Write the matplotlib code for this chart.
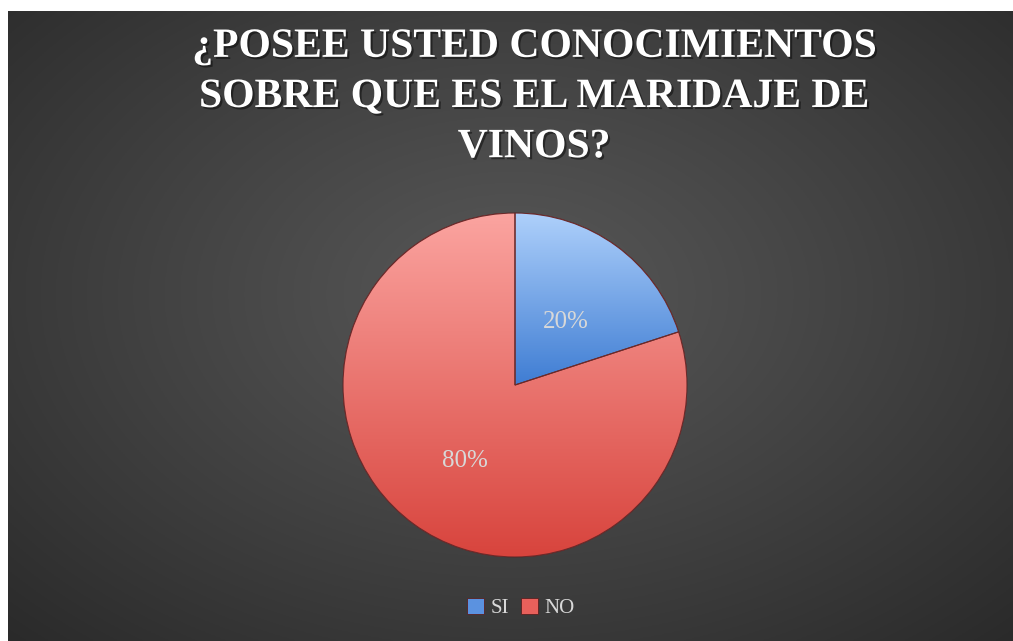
import numpy as np
import matplotlib
matplotlib.use("Agg")
import matplotlib.pyplot as plt
from matplotlib.colors import LinearSegmentedColormap
from matplotlib.patches import Wedge
import matplotlib.patheffects as pe

# ---- data ----
categories = ["SI", "NO"]
values = [20, 80]
title = "¿POSEE USTED CONOCIMIENTOS\nSOBRE QUE ES EL MARIDAJE DE\nVINOS?"

W, H = 1013, 641
fig = plt.figure(figsize=(W / 100, H / 100), dpi=100, facecolor="white")

# ---- chart area background (radial gradient) ----
x0, y0 = 8, 11  # chart area offset (px)
bg = fig.add_axes([x0 / W, 0, 1 - x0 / W, 1 - y0 / H])
bg.set_axis_off()
nx, ny = 500, 320
xx, yy = np.meshgrid(np.linspace(0, 1, nx), np.linspace(0, 1, ny))
cx, cy = 0.5, 0.55
d = np.sqrt(((xx - cx) / 0.75) ** 2 + ((yy - cy) / 0.8) ** 2)
d = np.clip(d, 0, 1)
light, dark = 0x57 / 255, 0x28 / 255
val = light + (dark - light) * d ** 1.1
bg.imshow(np.dstack([val, val, val]), extent=[0, 1, 0, 1], origin="lower", aspect="auto")
bg.set_xlim(0, 1)
bg.set_ylim(0, 1)

# ---- title ----
fig.text(534 / W, 1 - 97 / H, title, ha="center", va="center",
         fontsize=30, fontweight="bold", family="Liberation Serif",
         color="white", linespacing=1.42,
         path_effects=[pe.withSimplePatchShadow(offset=(1.5, -1.5), shadow_rgbFace="black", alpha=0.45)])

# ---- pie ----
pcx, pcy, R = 515, 385, 172
ax = fig.add_axes([(pcx - R) / W, (H - pcy - R) / H, 2 * R / W, 2 * R / H])
ax.set_axis_off()
wedges, texts, autotexts = ax.pie(
    values, startangle=90, counterclock=False, radius=1,
    colors=["#6a9fe6", "#ee6e69"], autopct="%1.0f%%", pctdistance=0.5,
    wedgeprops=dict(edgecolor="#5a2020", linewidth=0.6),
    textprops=dict(color="#d8d8d8", fontsize=18, family="Liberation Serif"))

grads = [("#aed0fb", "#3f7dd3"), ("#fba4a0", "#d8443d")]
for w, (ctop, cbot) in zip(wedges, grads):
    ext = w.get_path().get_extents()
    cmap = LinearSegmentedColormap.from_list("g", [cbot, ctop])
    g = np.linspace(0, 1, 256).reshape(-1, 1)
    im = ax.imshow(g, cmap=cmap, extent=[ext.x0, ext.x1, ext.y0, ext.y1],
                   origin="lower", aspect="auto", zorder=1.5)
    im.set_clip_path(w)
    w.set_zorder(1)
for w in wedges:
    edge = Wedge(w.center, w.r, w.theta1, w.theta2, facecolor="none",
                 edgecolor="#6b2a2a", linewidth=0.8, zorder=2)
    ax.add_patch(edge)
for t in autotexts:
    t.set_zorder(3)
    x, y = t.get_position()
    t.set_position((x, y - 0.04))
ax.set_xlim(-1.0, 1.0)
ax.set_ylim(-1.0, 1.0)

# ---- legend ----
leg = fig.legend(wedges, categories, loc="center", bbox_to_anchor=(521 / W, 1 - 608 / H),
                 ncol=2, frameon=False, handlelength=0.8, handleheight=0.8,
                 handletextpad=0.3, columnspacing=0.6,
                 prop=dict(family="Liberation Serif", size=15))
for t in leg.get_texts():
    t.set_color("#d8d8d8")
for h, c in zip(leg.legend_handles, ["#5b92e0", "#e8605b"]):
    h.set_facecolor(c)

fig.savefig("out.png", dpi=100, facecolor="white")
